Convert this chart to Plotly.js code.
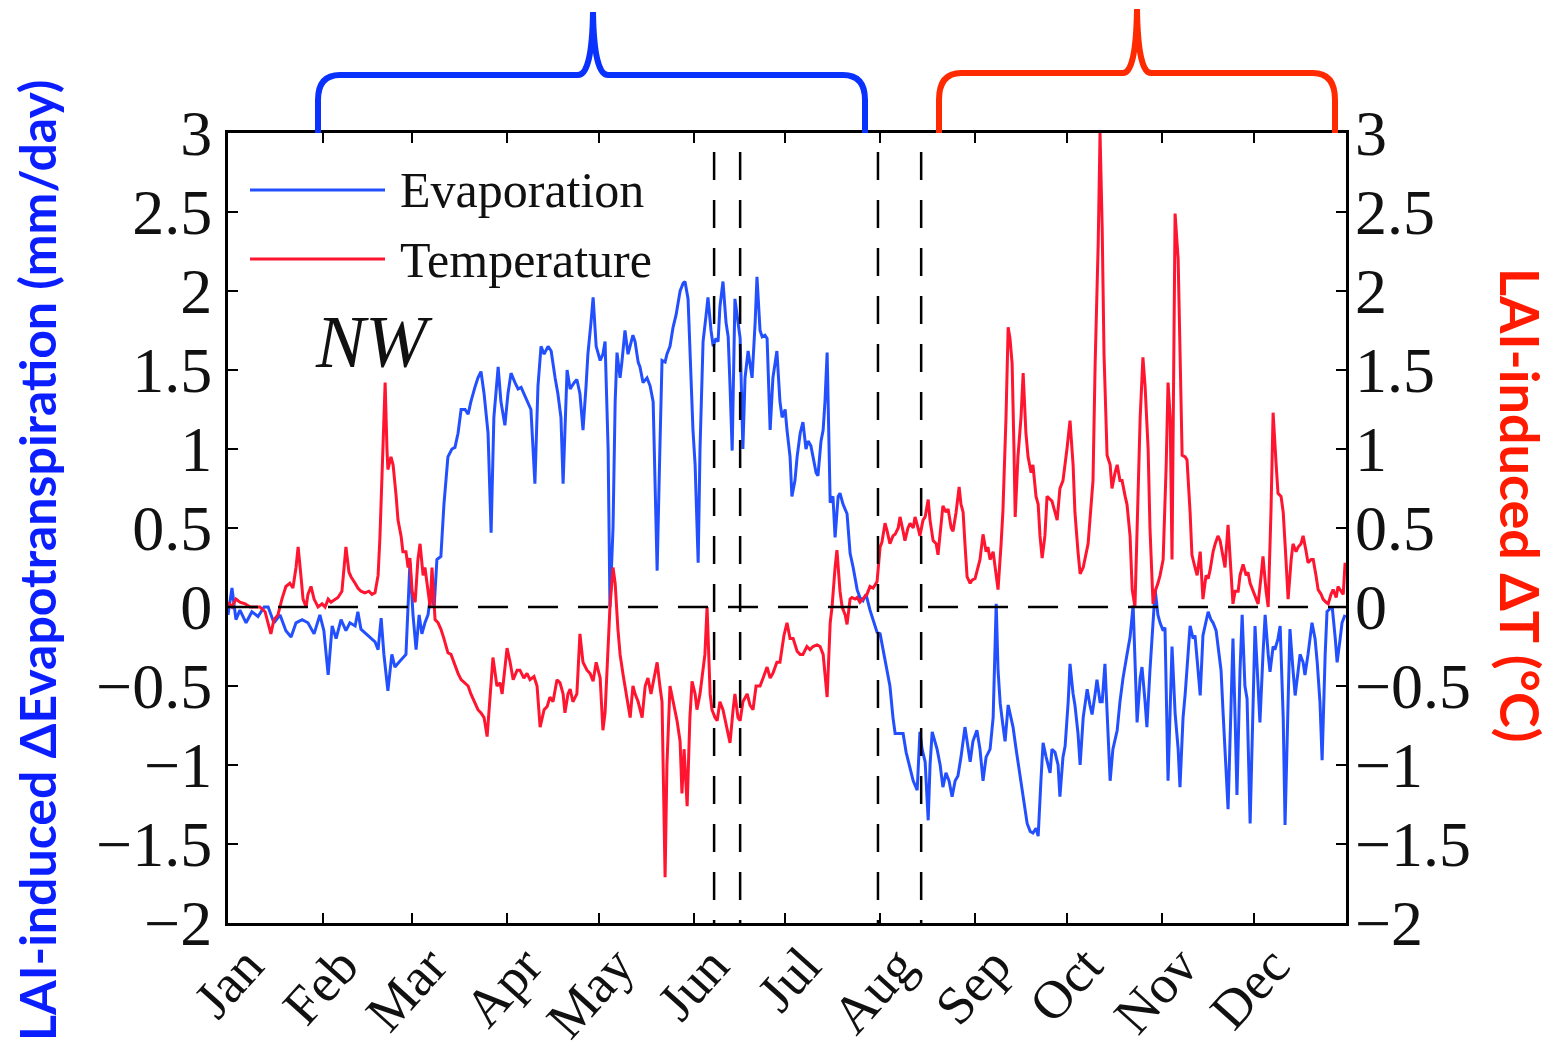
<!DOCTYPE html>
<html>
<head>
<meta charset="utf-8">
<script src="https://cdn.plot.ly/plotly-3.0.1.min.js"></script>
<style>html,body{margin:0;padding:0;background:#fff;}#chart{width:1557px;height:1051px;}</style>
</head>
<body>
<div id="chart"></div>
<script>
// ---------------- data ----------------
const monthLabels = ["Jan","Feb","Mar","Apr","May","Jun","Jul","Aug","Sep","Oct","Nov","Dec"];
const monthTickDays = [0,31,60,91,121,152,182,213,244,274,305,335];
const yTickVals = [-2,-1.5,-1,-0.5,0,0.5,1,1.5,2,2.5,3];
const eventDays = [158.7,167.2,212.2,226.3];

const evapDays = [
0,1.3,2.6,3.9,5.9,7.8,9.8,11.8,13.1,15.0,
17.0,18.9,20.6,22.2,24.2,26.1,28.1,30.0,31.3,32.7,
34.0,35.3,36.9,38.5,39.8,41.5,42.4,43.4,45.1,46.7,
48.0,49.0,50.0,50.9,52.2,53.5,54.5,55.8,57.1,58.1,
59.4,60.4,61.4,62.4,63.3,64.3,65.3,66.3,67.3,68.2,
69.5,70.5,71.8,73.1,74.1,75.1,76.1,77.4,78.4,79.3,
80.6,81.6,82.6,83.6,84.9,85.9,86.8,88.2,89.1,90.4,
91.4,92.4,93.7,94.7,95.7,96.6,97.9,98.9,100.2,101.2,
102.2,103.2,104.5,105.5,106.8,107.7,108.7,109.4,110.7,111.7,
113.0,113.9,114.9,115.9,116.9,117.5,118.5,119.2,120.2,121.5,
122.4,123.1,124.1,124.7,125.7,126.4,127.0,128.0,128.6,129.6,
130.6,131.3,132.2,132.9,133.9,134.5,135.5,136.8,137.8,138.8,
139.4,140.1,141.0,141.7,142.7,143.3,144.3,145.3,146.3,147.6,
148.6,149.2,150.2,150.8,151.8,152.5,153.5,154.1,155.1,156.1,
156.7,157.7,158.4,159.3,160.0,160.6,161.6,162.6,163.3,163.9,
164.6,165.5,166.2,167.2,168.1,168.8,169.8,170.4,171.1,172.1,
172.7,173.7,174.4,175.3,176.0,177.0,177.9,179.2,180.2,180.9,
181.9,182.5,183.5,184.1,185.1,185.8,186.8,187.7,188.7,189.4,
190.3,191.0,192.0,192.6,193.6,194.3,194.9,195.6,196.6,197.5,
198.2,199.2,199.8,200.8,202.1,203.1,204.1,205.4,206.3,207.3,
208.3,209.6,210.6,211.9,212.9,214.2,215.2,216.1,217.1,217.8,
219.1,220.4,221.4,222.7,223.7,225.0,225.9,226.6,227.6,228.6,
229.2,229.9,230.9,231.5,232.5,233.4,234.4,235.4,236.4,237.4,
238.3,239.3,240.6,241.6,242.3,243.2,244.5,245.5,246.5,247.5,
248.8,249.8,250.8,251.4,252.1,253.0,253.7,254.7,255.6,256.3,
257.3,258.6,259.6,260.9,261.9,262.8,263.8,264.5,265.4,266.1,
267.1,268.4,269.0,270.0,271.0,271.6,272.6,273.3,274.3,274.9,
275.9,276.5,277.5,278.2,279.2,280.5,281.4,282.1,283.1,283.7,
284.7,285.4,286.3,287.0,288.0,288.9,290.3,291.2,292.2,293.5,
294.5,295.5,296.1,296.8,297.8,298.4,299.4,300.0,301.0,301.7,
302.7,303.6,304.3,305.3,305.9,306.9,307.6,308.2,309.2,310.2,
310.8,311.8,312.5,313.4,314.1,315.1,315.7,316.7,317.4,318.3,
319.3,320.0,320.9,321.6,322.6,323.2,324.2,324.9,325.8,326.5,
327.5,328.1,328.8,329.4,330.4,331.1,332.0,332.7,333.7,334.7,
335.3,336.3,336.9,337.9,338.6,339.6,340.2,341.2,341.8,342.8,
343.5,344.5,345.1,346.1,346.7,347.7,348.4,349.4,350.0,351.0,
351.6,352.6,353.9,354.9,355.6,356.5,357.2,358.2,358.8,359.8,
360.5,361.5,362.1,363.1,363.7,364.7];

const evapValues = [
-0.05,0.12,-0.08,-0.02,-0.1,-0.03,-0.06,0.0,0.0,-0.1,
-0.05,-0.15,-0.19,-0.1,-0.08,-0.1,-0.17,-0.05,-0.15,-0.43,
-0.12,-0.2,-0.08,-0.15,-0.1,-0.12,-0.03,-0.14,-0.17,-0.2,
-0.22,-0.27,-0.07,-0.3,-0.53,-0.3,-0.38,-0.35,-0.32,-0.3,
0.28,-0.05,-0.27,-0.05,-0.17,-0.1,-0.05,0.1,0.0,0.3,
0.32,0.65,0.95,1.0,1.01,1.1,1.25,1.25,1.22,1.3,
1.39,1.45,1.49,1.35,1.1,0.47,1.2,1.52,1.3,1.15,
1.35,1.48,1.42,1.38,1.39,1.35,1.3,1.25,0.78,1.4,
1.65,1.6,1.65,1.62,1.45,1.35,1.2,0.78,1.5,1.38,
1.42,1.44,1.35,1.12,1.4,1.6,1.8,1.96,1.65,1.56,
1.6,1.68,1.0,0.0,0.5,1.3,1.61,1.45,1.55,1.75,
1.6,1.65,1.72,1.68,1.55,1.52,1.42,1.45,1.4,1.3,
0.8,0.23,1.0,1.56,1.55,1.6,1.65,1.77,1.85,2.0,
2.05,2.06,1.95,1.6,1.12,0.9,0.28,1.0,1.68,1.85,
1.96,1.75,1.65,1.7,1.68,1.9,2.06,1.8,1.71,1.4,
0.99,1.95,1.85,1.7,1.0,1.45,1.62,1.55,1.45,1.8,
2.09,1.75,1.71,1.72,1.7,1.12,1.45,1.62,1.3,1.2,
1.25,1.12,0.95,0.7,0.8,0.95,1.1,1.17,1.0,1.05,
1.02,0.95,0.85,0.83,1.05,1.12,1.3,1.61,0.66,0.7,
0.44,0.7,0.72,0.65,0.59,0.34,0.25,0.11,0.06,0.04,
0.08,-0.02,-0.08,-0.16,-0.17,-0.3,-0.4,-0.5,-0.7,-0.8,
-0.8,-0.8,-0.92,-1.03,-1.1,-1.16,-0.79,-0.9,-0.98,-1.35,
-1.0,-0.79,-0.85,-0.9,-1.0,-1.14,-1.05,-1.1,-1.2,-1.1,
-1.07,-0.95,-0.76,-0.9,-0.98,-0.85,-0.78,-0.9,-1.1,-0.95,
-0.9,-0.7,0.02,-0.4,-0.61,-0.75,-0.85,-0.62,-0.7,-0.76,
-0.9,-1.08,-1.2,-1.37,-1.42,-1.43,-1.4,-1.45,-1.1,-0.86,
-0.95,-1.05,-0.9,-0.92,-1.0,-1.2,-0.95,-0.88,-0.6,-0.36,
-0.55,-0.62,-0.8,-1.0,-0.7,-0.52,-0.62,-0.68,-0.55,-0.46,
-0.6,-0.6,-0.36,-0.7,-1.1,-0.9,-0.78,-0.6,-0.45,-0.3,
-0.19,0.01,-0.4,-0.73,-0.45,-0.38,-0.6,-0.76,-0.4,-0.2,
0.11,-0.05,-0.1,-0.15,-0.13,-1.1,-0.6,-0.25,-0.67,-0.9,
-1.14,-0.7,-0.55,-0.3,-0.12,-0.2,-0.18,-0.4,-0.56,-0.18,
-0.1,-0.03,-0.08,-0.1,-0.15,-0.25,-0.4,-0.68,-1.0,-1.28,
-0.6,-0.2,-0.7,-1.19,-0.4,-0.05,-0.5,-0.58,-1.37,-0.5,
-0.12,-0.5,-0.73,-0.3,-0.05,-0.3,-0.41,-0.25,-0.27,-0.2,
-0.12,-0.7,-1.38,-0.6,-0.14,-0.4,-0.56,-0.4,-0.3,-0.35,
-0.43,-0.3,-0.1,-0.2,-0.35,-0.6,-0.97,-0.3,-0.03,-0.01,
0.0,-0.2,-0.35,-0.2,-0.1,-0.05];

const tempDays = [
0,1.3,2.6,3.9,5.6,7.2,8.8,10.4,12.1,13.1,
14.0,15.0,16.3,17.6,18.9,20.2,21.2,22.2,22.9,23.8,
24.5,25.5,26.1,27.1,28.1,29.4,30.7,31.7,32.7,33.6,
34.9,35.9,37.2,38.5,39.5,40.2,41.5,42.4,43.4,44.7,
46.0,47.0,48.0,49.0,49.6,50.6,51.3,51.9,52.2,53.2,
53.9,54.9,55.5,56.5,57.1,58.1,58.8,59.4,60.1,61.1,
62.0,62.7,63.7,64.3,65.3,66.0,66.6,67.6,68.6,69.5,
70.5,71.8,72.8,74.1,75.1,76.1,77.4,78.4,79.3,80.6,
81.6,82.6,83.6,84.6,85.5,86.5,87.8,88.8,89.5,90.4,
91.1,92.1,93.1,94.4,95.3,96.6,97.6,98.6,99.9,100.9,
101.9,103.2,104.2,105.1,106.1,107.4,108.4,109.4,110.0,111.0,
111.7,112.6,113.9,114.9,115.9,117.2,118.2,119.2,120.2,121.5,
122.4,123.1,124.1,124.7,125.7,126.4,127.3,128.0,129.0,130.0,
131.3,132.2,132.9,133.9,135.2,136.2,137.1,138.1,139.1,140.1,
141.0,141.7,142.7,143.3,144.3,145.3,146.6,147.6,148.2,148.9,
149.9,150.8,151.5,152.5,153.1,154.1,154.8,155.7,156.4,157.4,
158.0,159.0,159.7,160.6,161.6,162.6,163.9,164.9,165.5,166.5,
167.2,168.1,169.5,170.4,171.4,172.4,173.7,174.7,176.0,177.0,
177.9,179.2,180.2,181.5,182.5,183.5,184.5,185.8,186.8,187.7,
189.0,190.0,191.0,192.3,193.3,194.3,195.6,196.6,197.2,198.2,
198.8,199.8,200.5,201.5,202.1,203.1,203.7,204.7,205.4,206.3,
207.3,208.6,209.6,210.6,211.9,212.9,213.5,214.5,215.2,216.1,
217.1,217.8,218.8,219.4,220.4,221.0,222.0,222.7,223.7,224.3,
225.3,225.9,226.9,227.6,228.6,229.2,230.2,231.2,231.8,232.8,
233.4,234.4,235.1,236.1,236.7,237.7,238.7,239.3,240.0,240.6,
241.3,242.3,242.9,243.9,244.5,245.5,246.5,247.5,248.1,248.8,
249.8,250.8,251.4,252.4,253.0,254.0,254.7,255.3,256.0,256.6,
257.0,257.9,258.9,259.6,260.5,261.2,262.2,262.8,263.8,264.5,
265.1,265.8,266.7,267.4,268.4,269.0,270.0,270.7,271.6,272.6,
273.9,274.9,275.9,276.5,277.5,278.2,279.2,279.8,280.8,281.4,
282.4,283.1,284.1,284.7,285.4,286.0,287.0,288.0,288.6,289.6,
290.3,291.2,291.9,292.9,293.5,294.5,295.2,296.1,296.8,297.8,
298.7,299.4,300.4,301.0,302.0,302.7,303.6,304.3,305.3,306.3,
306.9,307.6,308.2,309.2,310.2,310.8,311.5,312.5,313.1,314.1,
314.7,315.7,316.4,317.4,318.3,319.3,320.0,320.6,321.6,322.3,
323.2,323.9,324.9,325.5,326.5,327.2,328.1,328.8,329.8,330.4,
331.4,332.4,333.0,333.7,334.7,335.6,336.3,337.3,337.9,338.9,
339.6,340.5,341.2,342.2,342.8,343.8,344.5,345.4,346.1,347.1,
347.7,348.7,349.4,350.3,351.0,352.0,352.6,353.6,354.3,355.2,
355.9,356.9,357.5,358.5,359.2,360.1,360.8,361.8,362.4,363.4,
364.1,364.7];

const tempValues = [
0.03,0.0,0.05,0.03,0.02,0.0,0.0,0.0,-0.03,-0.1,
-0.17,-0.08,-0.05,0.05,0.13,0.15,0.12,0.25,0.38,0.2,
0.05,0.0,0.08,0.13,0.05,0.0,0.02,0.0,0.05,0.03,
0.05,0.06,0.1,0.38,0.22,0.19,0.15,0.12,0.1,0.09,
0.1,0.08,0.09,0.2,0.44,1.0,1.42,1.0,0.87,0.95,
0.9,0.7,0.55,0.45,0.35,0.35,0.25,0.31,0.1,0.03,
0.3,0.4,0.2,0.25,0.1,0.0,0.25,-0.08,-0.1,-0.14,
-0.2,-0.29,-0.3,-0.37,-0.42,-0.46,-0.48,-0.5,-0.55,-0.61,
-0.65,-0.67,-0.7,-0.82,-0.6,-0.32,-0.5,-0.48,-0.55,-0.4,
-0.26,-0.35,-0.46,-0.4,-0.4,-0.45,-0.42,-0.46,-0.44,-0.5,
-0.76,-0.65,-0.63,-0.57,-0.6,-0.46,-0.48,-0.55,-0.67,-0.55,
-0.52,-0.6,-0.55,-0.17,-0.35,-0.4,-0.42,-0.47,-0.35,-0.45,
-0.78,-0.67,-0.3,0.0,0.25,0.15,-0.14,-0.3,-0.43,-0.55,
-0.7,-0.5,-0.55,-0.6,-0.7,-0.5,-0.45,-0.55,-0.45,-0.35,
-0.5,-0.6,-1.71,-1.0,-0.5,-0.6,-0.72,-0.85,-1.18,-0.9,
-1.26,-0.7,-0.47,-0.55,-0.65,-0.55,-0.45,-0.3,0.0,-0.55,
-0.65,-0.7,-0.72,-0.6,-0.65,-0.75,-0.86,-0.65,-0.55,-0.7,
-0.72,-0.6,-0.55,-0.62,-0.65,-0.5,-0.5,-0.45,-0.38,-0.45,
-0.42,-0.35,-0.35,-0.18,-0.1,-0.2,-0.2,-0.28,-0.3,-0.3,
-0.25,-0.27,-0.25,-0.24,-0.25,-0.3,-0.57,-0.1,0.0,0.25,
0.36,0.1,0.0,-0.05,-0.11,0.05,0.06,0.05,0.06,0.03,
0.05,0.08,0.13,0.12,0.16,0.38,0.41,0.53,0.48,0.4,
0.45,0.46,0.5,0.57,0.48,0.42,0.5,0.53,0.5,0.57,
0.5,0.45,0.55,0.57,0.68,0.55,0.42,0.4,0.33,0.5,
0.64,0.6,0.62,0.5,0.48,0.6,0.76,0.65,0.6,0.4,
0.19,0.15,0.17,0.18,0.22,0.3,0.46,0.35,0.38,0.3,
0.35,0.2,0.11,0.4,0.61,1.2,1.77,1.7,1.54,1.0,
0.57,0.95,1.2,1.48,1.1,0.95,0.85,0.9,0.7,0.65,
0.45,0.31,0.45,0.7,0.68,0.67,0.6,0.55,0.75,0.8,
1.0,1.18,0.9,0.6,0.35,0.21,0.25,0.3,0.4,0.55,
0.8,1.54,2.3,3.0,2.4,1.6,0.96,0.9,0.75,0.85,
0.9,0.8,0.8,0.7,0.65,0.45,0.11,0.0,0.5,1.2,
1.58,1.4,1.0,0.5,0.02,0.1,0.15,0.2,0.3,0.9,
1.42,1.2,0.3,2.49,2.2,1.6,0.96,0.95,0.93,0.6,
0.33,0.25,0.2,0.35,0.05,0.2,0.18,0.23,0.35,0.4,
0.45,0.42,0.3,0.25,0.52,0.3,0.02,0.1,0.1,0.2,
0.27,0.2,0.22,0.15,0.1,0.05,0.02,0.2,0.32,0.1,
0.0,0.6,1.23,0.9,0.72,0.7,0.6,0.3,0.05,0.3,
0.4,0.35,0.38,0.4,0.45,0.35,0.28,0.3,0.3,0.2,
0.11,0.08,0.05,0.03,0.02,0.08,0.11,0.06,0.13,0.1,
0.08,0.28];

// ---------------- geometry helpers (decorations only) ----------------
const PL = 228, PR = 1346, PT = 133, PB = 923;
function fx(px){ return ((px - PL) / (PR - PL)).toFixed(5); }
function fy(py){ return ((PB - py) / (PB - PT)).toFixed(5); }
function path(cmds){
  return cmds.map(c => {
    const op = c[0];
    const pts = [];
    for (let i = 1; i < c.length; i += 2) pts.push(fx(c[i]) + ',' + fy(c[i+1]));
    return op + pts.join(' ');
  }).join(' ');
}

const blueBrace = path([
  ['M',318,133],['L',318,100],['Q',318,75,340,75],['L',578,75],
  ['Q',592,75,593,12],['Q',594,75,608,75],['L',843,75],
  ['Q',865,75,865,100],['L',865,133]
]);
const redBrace = path([
  ['M',939,133],['L',939,100],['Q',939,73,961,73],['L',1123,73],
  ['Q',1136,73,1137,9],['Q',1138,73,1151,73],['L',1313,73],
  ['Q',1335,73,1335,100],['L',1335,133]
]);

const BLUE = '#2350ff';
const RED = '#ff1530';
const SERIF = 'Liberation Serif, Times New Roman, serif';

const traces = [
  {x: evapDays, y: evapValues, type: 'scatter', mode: 'lines', name: 'Evaporation',
   line: {color: BLUE, width: 3}, xaxis: 'x', yaxis: 'y'},
  {x: tempDays, y: tempValues, type: 'scatter', mode: 'lines', name: 'Temperature',
   line: {color: RED, width: 3}, xaxis: 'x', yaxis: 'y2'}
];

const shapes = [];
// zero line
shapes.push({type: 'line', xref: 'paper', yref: 'y', x0: 0, x1: 1, y0: 0, y1: 0,
  line: {color: '#000', width: 2.5, dash: '30px,20px'}});
// event lines
eventDays.forEach(d => shapes.push({type: 'line', xref: 'x', yref: 'paper', x0: d, x1: d, y0: 0.976, y1: 0,
  line: {color: '#000', width: 2.5, dash: '28px,20px'}}));
// legend samples
shapes.push({type: 'line', xref: 'paper', yref: 'paper', x0: fx(250), x1: fx(385), y0: fy(190), y1: fy(190),
  line: {color: BLUE, width: 3}});
shapes.push({type: 'line', xref: 'paper', yref: 'paper', x0: fx(250), x1: fx(385), y0: fy(259), y1: fy(259),
  line: {color: RED, width: 3}});
// braces
shapes.push({type: 'path', xref: 'paper', yref: 'paper', path: blueBrace, line: {color: '#0a32ff', width: 6}});
shapes.push({type: 'path', xref: 'paper', yref: 'paper', path: redBrace, line: {color: '#ff2a00', width: 6}});

const annotations = [
  {xref: 'paper', yref: 'paper', x: fx(398), y: fy(190), xanchor: 'left', yanchor: 'middle', showarrow: false,
   text: 'Evaporation', font: {family: SERIF, size: 50, color: '#111'}},
  {xref: 'paper', yref: 'paper', x: fx(398), y: fy(260), xanchor: 'left', yanchor: 'middle', showarrow: false,
   text: 'Temperature', font: {family: SERIF, size: 50, color: '#111'}},
  {xref: 'paper', yref: 'paper', x: fx(374), y: fy(342), xanchor: 'center', yanchor: 'middle', showarrow: false,
   text: '<i>NW</i>', font: {family: SERIF, size: 74, color: '#111'}},
  {xref: 'paper', yref: 'paper', x: fx(37), y: fy(560), xanchor: 'center', yanchor: 'middle', showarrow: false,
   textangle: -90, text: '<b>LAI-induced ΔEvapotranspiration (mm/day)</b>',
   font: {family: 'Lato, Open Sans, sans-serif', size: 50, color: '#0a1eff'}},
  {xref: 'paper', yref: 'paper', x: fx(1521), y: fy(505), xanchor: 'center', yanchor: 'middle', showarrow: false,
   textangle: 90, text: '<b>LAI-induced ΔT (°C)</b>',
   font: {family: 'Lato, Open Sans, sans-serif', size: 54, color: '#ff1a00'}}
];

const axisCommon = {
  ticks: 'inside', ticklen: 10, tickwidth: 2, tickcolor: '#000',
  showgrid: false, zeroline: false
};

const layout = {
  width: 1557, height: 1051,
  margin: {l: PL, r: 1557 - PR, t: PT, b: 1051 - PB, pad: 0},
  paper_bgcolor: '#fff', plot_bgcolor: '#fff',
  showlegend: false,
  xaxis: Object.assign({}, axisCommon, {
    range: [0, 365], tickmode: 'array', tickvals: monthTickDays, ticktext: monthLabels,
    tickangle: -48, showline: true, linewidth: 3, linecolor: '#000', mirror: 'ticks',
    tickfont: {family: SERIF, size: 54, color: '#111'}, ticklabelshift: 18, ticklabelstandoff: -14
  }),
  yaxis: Object.assign({}, axisCommon, {
    range: [-2, 3], tickmode: 'array', tickvals: yTickVals,
    showline: true, linewidth: 3, linecolor: '#000', mirror: true,
    tickfont: {family: SERIF, size: 64, color: '#111'}, ticklabelstandoff: 0
  }),
  yaxis2: Object.assign({}, axisCommon, {
    range: [-2, 3], tickmode: 'array', tickvals: yTickVals, overlaying: 'y', side: 'right',
    showline: false,
    tickfont: {family: SERIF, size: 64, color: '#111'}, ticklabelstandoff: 8
  }),
  shapes: shapes,
  annotations: annotations
};

Plotly.newPlot('chart', traces, layout, {displayModeBar: false, staticPlot: true});
</script>
</body>
</html>
